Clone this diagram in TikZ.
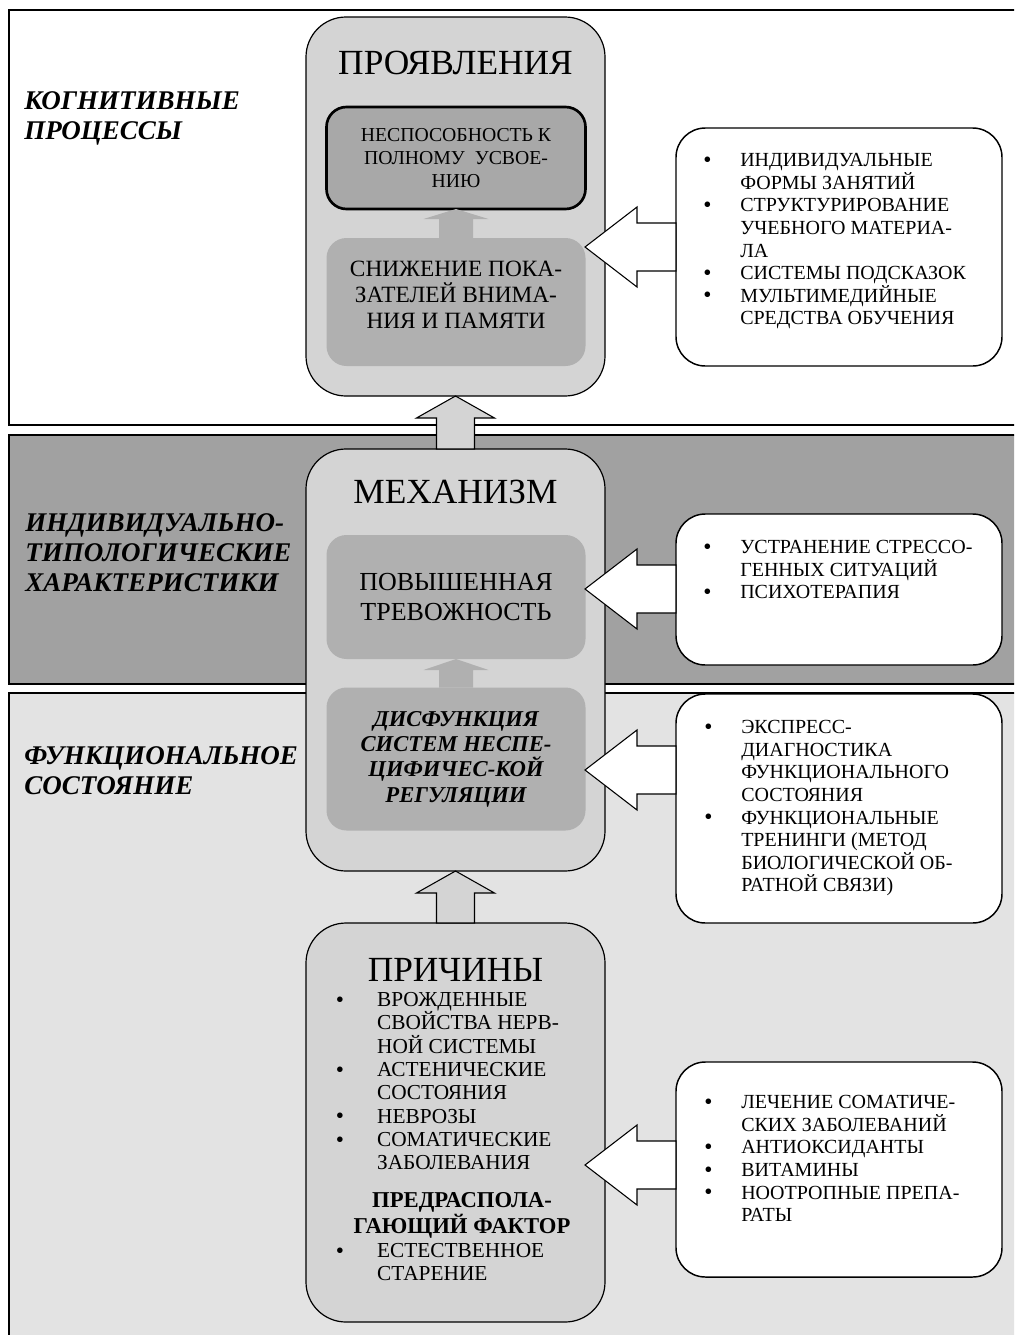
\documentclass[tikz,border=0pt]{standalone}
\usepackage{fontspec}
\setmainfont{Liberation Serif}
\usetikzlibrary{positioning,calc}

\definecolor{bandmid}{gray}{0.63}
\definecolor{bandlow}{gray}{0.89}
\definecolor{outerfill}{gray}{0.83}
\definecolor{innerfill}{gray}{0.69}
\definecolor{nespfill}{gray}{0.66}

% bullets for the lists
\newcommand{\dotb}{\smash{\raisebox{-0.6pt}{\fontsize{17.5}{17.5}\selectfont\textbullet}}}
\newcommand{\bul}{\makebox[27.75pt][l]{\dotb}}
\newcommand{\ind}{\hspace*{27.75pt}}
\newcommand{\bulb}{\makebox[31pt][l]{\dotb}}
\newcommand{\indb}{\hspace*{31pt}}

% block arrows: style, base, tip, shaft half, head half, head length
\newcommand{\vblk}[6]{%
  \draw[#1] ($(#2)+(-#4,0)$) -- ($(#3)+(-#4,#6)$) -- ($(#3)+(-#5,#6)$) -- (#3)
    -- ($(#3)+(#5,#6)$) -- ($(#3)+(#4,#6)$) -- ($(#2)+(#4,0)$) -- cycle;}
\newcommand{\hblk}[6]{%
  \draw[#1] ($(#2)+(0,-#4)$) -- ($(#3)+(#6,-#4)$) -- ($(#3)+(#6,-#5)$) -- (#3)
    -- ($(#3)+(#6,#5)$) -- ($(#3)+(#6,#4)$) -- ($(#2)+(0,#4)$) -- cycle;}

\tikzset{
  band/.style={draw=black, line width=1.1pt},
  sidelabel/.style={anchor=north west, align=left, inner sep=0pt,
    font=\fontsize{20.25}{22.5}\selectfont\bfseries\itshape},
  outerbox/.style={draw=black, line width=0.9pt, fill=outerfill, rounded corners=30pt,
    minimum width=224.25pt, inner sep=0pt, outer sep=0pt},
  title/.style={inner sep=0pt, font=\fontsize{26.5}{30}\selectfont},
  inbox/.style={fill=innerfill, rounded corners=15pt, minimum width=194.25pt,
    align=center, inner sep=0pt, outer sep=0pt},
  nespbox/.style={draw=black, line width=2pt, fill=nespfill},
  smallarrow/.style={fill=innerfill, draw=none},
  bigarrow/.style={draw=black, line width=0.8pt, fill=outerfill},
  sidearrow/.style={draw=black, line width=0.8pt, fill=white},
  rbox/.style={draw=black, line width=1.1pt, fill=white, rounded corners=22pt,
    minimum width=244.5pt, inner sep=0pt, outer sep=0pt},
  list/.style={anchor=north west, align=left, inner sep=0pt,
    font=\fontsize{15}{16.9}\selectfont}
}

\begin{document}
\begin{tikzpicture}[x=0.75pt, y=-0.75pt]
  \useasboundingbox (0,0) rectangle (1014,1335);
  \clip (0,0) rectangle (1014,1335);

  % bands
  \path[band, fill=white] (9,10) rectangle (1030,425);
  \path[band, fill=bandmid] (9,435) rectangle (1030,684);
  \path[band, fill=bandlow] (9,693) rectangle (1030,1350);

  \node[sidelabel] (cogn) at (24,91) {КОГНИТИВНЫЕ\\ПРОЦЕССЫ};
  \node[sidelabel] (indiv) at (25,513) {ИНДИВИДУАЛЬНО-\\ТИПОЛОГИЧЕСКИЕ\\ХАРАКТЕРИСТИКИ};
  \node[sidelabel] (func) at (24,746) {ФУНКЦИОНАЛЬНОЕ\\СОСТОЯНИЕ};

  % central column
  \node[outerbox, minimum height=284.25pt] (prov) at (455.5,206.5) {};
  \node[title] (provt) at (455.5,63) {ПРОЯВЛЕНИЯ};
  \node[inbox, nespbox, minimum height=76.5pt, font=\fontsize{14.8}{17.25}\selectfont]
    (nesp) at (456,158) {НЕСПОСОБНОСТЬ К\\ПОЛНОМУ\ \ УСВОЕ-\\НИЮ};
  \node[inbox, minimum height=96pt, font=\fontsize{17.5}{19.5}\selectfont]
    (snizh) at (456,302) {СНИЖЕНИЕ ПОКА-\\ЗАТЕЛЕЙ ВНИМА-\\НИЯ И ПАМЯТИ\\[-9pt]\mbox{}};

  \node[outerbox, minimum height=316.5pt] (mech) at (455.5,660) {};
  \node[title] (mecht) at (455.5,492) {МЕХАНИЗМ};
  \node[inbox, minimum height=93pt, font=\fontsize{19.5}{23}\selectfont]
    (trev) at (456,597) {ПОВЫШЕННАЯ\\ТРЕВОЖНОСТЬ};
  \node[inbox, minimum height=107.25pt, font=\fontsize{17}{19}\selectfont\bfseries\itshape]
    (disf) at (456,759) {ДИСФУНКЦИЯ\\СИСТЕМ НЕСПЕ-\\ЦИФИЧЕС-КОЙ\\РЕГУЛЯЦИИ};

  \node[outerbox, minimum height=299.25pt] (prich) at (455.5,1122.5) {};
  \node[title] (pricht) at (455.5,970) {ПРИЧИНЫ};
  \node[list, font=\fontsize{16}{17.5}\selectfont] (causes) at (335.5,992) {\bulb ВРОЖДЕННЫЕ\\\indb СВОЙСТВА НЕРВ-\\\indb НОЙ СИСТЕМЫ\\
    \bulb АСТЕНИЧЕСКИЕ\\\indb СОСТОЯНИЯ\\\bulb НЕВРОЗЫ\\\bulb СОМАТИЧЕСКИЕ\\\indb ЗАБОЛЕВАНИЯ};
  \node[align=center, inner sep=0pt, font=\fontsize{17}{19}\selectfont\bfseries]
    (factor) at (462,1215.5) {ПРЕДРАСПОЛА-\\ГАЮЩИЙ ФАКТОР};
  \node[list, font=\fontsize{16}{17.5}\selectfont] (aging) at (335.5,1243) {\bulb ЕСТЕСТВЕННОЕ\\\indb СТАРЕНИЕ};

  \vblk{smallarrow}{snizh.north}{nesp.south}{17}{32.5}{10}
  \vblk{smallarrow}{disf.north}{trev.south}{17}{32.5}{11}
  \vblk{bigarrow}{mech.north}{prov.south}{19}{39}{22}
  \vblk{bigarrow}{prich.north}{mech.south}{19}{39}{22}

  % right column
  \node[rbox, minimum height=178.5pt] (aid1) at (839,247) {};
  \node[rbox, minimum height=113.25pt] (aid2) at (839,589.5) {};
  \node[rbox, minimum height=171.75pt] (aid3) at (839,808.5) {};
  \node[rbox, minimum height=161.25pt] (aid4) at (839,1169.5) {};

  \node[list] (aid1t) at (703,153.4) {\bul ИНДИВИДУАЛЬНЫЕ\\\ind ФОРМЫ ЗАНЯТИЙ\\
    \bul СТРУКТУРИРОВАНИЕ\\\ind УЧЕБНОГО МАТЕРИА-\\\ind ЛА\\\bul СИСТЕМЫ ПОДСКАЗОК\\
    \bul МУЛЬТИМЕДИЙНЫЕ\\\ind СРЕДСТВА ОБУЧЕНИЯ};
  \node[list] (aid2t) at (703,540.4) {\bul УСТРАНЕНИЕ СТРЕССО-\\\ind ГЕННЫХ СИТУАЦИЙ\\
    \bul ПСИХОТЕРАПИЯ};
  \node[list] (aid3t) at (704,720.4) {\bul ЭКСПРЕСС-\\\ind ДИАГНОСТИКА\\\ind ФУНКЦИОНАЛЬНОГО\\
    \ind СОСТОЯНИЯ\\\bul ФУНКЦИОНАЛЬНЫЕ\\\ind ТРЕНИНГИ (МЕТОД\\\ind БИОЛОГИЧЕСКОЙ ОБ-\\
    \ind РАТНОЙ СВЯЗИ)};
  \node[list] (aid4t) at (704,1095.4) {\bul ЛЕЧЕНИЕ СОМАТИЧЕ-\\\ind СКИХ ЗАБОЛЕВАНИЙ\\
    \bul АНТИОКСИДАНТЫ\\\bul ВИТАМИНЫ\\\bul НООТРОПНЫЕ ПРЕПА-\\\ind РАТЫ};

  \coordinate (tip1) at (585,247);
  \coordinate (tip2) at (585,589);
  \coordinate (tip3) at (585,770);
  \coordinate (tip4) at (585,1165);
  \coordinate (base1) at (aid1.west |- tip1);
  \coordinate (base2) at (aid2.west |- tip2);
  \coordinate (base3) at (aid3.west |- tip3);
  \coordinate (base4) at (aid4.west |- tip4);
  \hblk{sidearrow}{base1}{tip1}{24}{40}{52}
  \hblk{sidearrow}{base2}{tip2}{24}{40}{52}
  \hblk{sidearrow}{base3}{tip3}{24}{40}{52}
  \hblk{sidearrow}{base4}{tip4}{24}{40}{52}
\end{tikzpicture}
\end{document}
